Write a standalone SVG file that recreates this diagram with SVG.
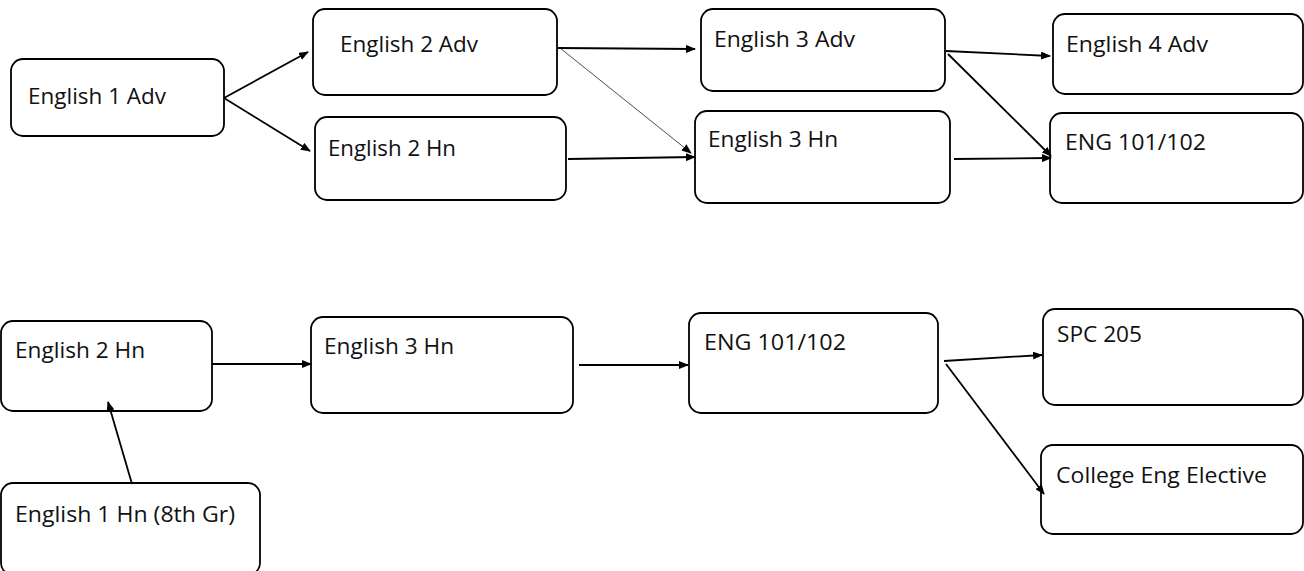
<svg xmlns="http://www.w3.org/2000/svg" width="1304" height="571" viewBox="0 0 1304 571">
<style>
.box{fill:#fff;stroke:#000;stroke-width:1.8}
.lbl{font-family:"Open Sans","Noto Sans",sans-serif;font-size:22px;fill:#111}
.c{stroke:#000;stroke-width:1.8;fill:none}
.t{stroke:#000;stroke-width:0.7;fill:none}
</style>
<defs>
<marker id="ah" markerUnits="userSpaceOnUse" markerWidth="10" markerHeight="8" refX="9" refY="4" orient="auto"><path d="M0,0 L10,4 L0,8 Z" fill="#000"/></marker>
</defs>
<rect width="1304" height="571" fill="#fff"/>
<g id="n-e1adv"><rect class="box" x="11" y="59" width="213" height="77" rx="12"/><text class="lbl" x="28" y="104" textLength="138" lengthAdjust="spacingAndGlyphs">English 1 Adv</text></g>
<g id="n-e2adv"><rect class="box" x="313" y="9" width="244" height="86" rx="12"/><text class="lbl" x="340" y="52" textLength="138" lengthAdjust="spacingAndGlyphs">English 2 Adv</text></g>
<g id="n-e2hn"><rect class="box" x="315" y="117" width="251" height="83" rx="12"/><text class="lbl" x="328" y="156" textLength="128" lengthAdjust="spacingAndGlyphs">English 2 Hn</text></g>
<g id="n-e3adv"><rect class="box" x="701" y="9" width="244" height="82" rx="12"/><text class="lbl" x="714" y="47" textLength="141" lengthAdjust="spacingAndGlyphs">English 3 Adv</text></g>
<g id="n-e3hn"><rect class="box" x="695" y="111" width="255" height="92" rx="12"/><text class="lbl" x="708" y="147" textLength="130" lengthAdjust="spacingAndGlyphs">English 3 Hn</text></g>
<g id="n-e4adv"><rect class="box" x="1053" y="14" width="250" height="80" rx="12"/><text class="lbl" x="1066" y="52" textLength="142" lengthAdjust="spacingAndGlyphs">English 4 Adv</text></g>
<g id="n-eng-top"><rect class="box" x="1050" y="113" width="253" height="90" rx="12"/><text class="lbl" x="1065" y="150" textLength="141" lengthAdjust="spacingAndGlyphs">ENG 101/102</text></g>
<g id="n-e2hn-b"><rect class="box" x="1" y="321" width="211" height="90" rx="12"/><text class="lbl" x="15" y="358" textLength="130" lengthAdjust="spacingAndGlyphs">English 2 Hn</text></g>
<g id="n-e1hn"><rect class="box" x="1" y="483" width="259" height="92" rx="12"/><text class="lbl" x="15" y="522" textLength="220" lengthAdjust="spacingAndGlyphs">English 1 Hn (8th Gr)</text></g>
<g id="n-e3hn-b"><rect class="box" x="311" y="317" width="262" height="96" rx="12"/><text class="lbl" x="324" y="354" textLength="130" lengthAdjust="spacingAndGlyphs">English 3 Hn</text></g>
<g id="n-eng-b"><rect class="box" x="689" y="313" width="249" height="100" rx="12"/><text class="lbl" x="704" y="350" textLength="142" lengthAdjust="spacingAndGlyphs">ENG 101/102</text></g>
<g id="n-spc"><rect class="box" x="1043" y="309" width="260" height="96" rx="12"/><text class="lbl" x="1057" y="342" textLength="85" lengthAdjust="spacingAndGlyphs">SPC 205</text></g>
<g id="n-elective"><rect class="box" x="1041" y="445" width="262" height="89" rx="12"/><text class="lbl" x="1056" y="483" textLength="211" lengthAdjust="spacingAndGlyphs">College Eng Elective</text></g>
<g id="connectors">
<line class="c" x1="224" y1="98" x2="308" y2="52" marker-end="url(#ah)"/>
<line class="c" x1="224" y1="98" x2="310" y2="151" marker-end="url(#ah)"/>
<line class="c" x1="557" y1="48" x2="695" y2="49" marker-end="url(#ah)"/>
<line class="t" x1="560" y1="48" x2="691" y2="153" marker-end="url(#ah)"/>
<line class="c" x1="568" y1="159" x2="695" y2="157" marker-end="url(#ah)"/>
<line class="c" x1="946" y1="51" x2="1050" y2="56" marker-end="url(#ah)"/>
<line class="c" x1="948" y1="54" x2="1051" y2="156" marker-end="url(#ah)"/>
<line class="c" x1="954" y1="159" x2="1051" y2="158" marker-end="url(#ah)"/>
<line class="c" x1="212" y1="364" x2="311" y2="364" marker-end="url(#ah)"/>
<line class="c" x1="132" y1="484" x2="108" y2="402" marker-end="url(#ah)"/>
<line class="c" x1="579" y1="365" x2="688" y2="365" marker-end="url(#ah)"/>
<line class="c" x1="944" y1="361" x2="1042" y2="355" marker-end="url(#ah)"/>
<line class="c" x1="946" y1="364" x2="1044" y2="494" marker-end="url(#ah)"/>
</g>
</svg>
